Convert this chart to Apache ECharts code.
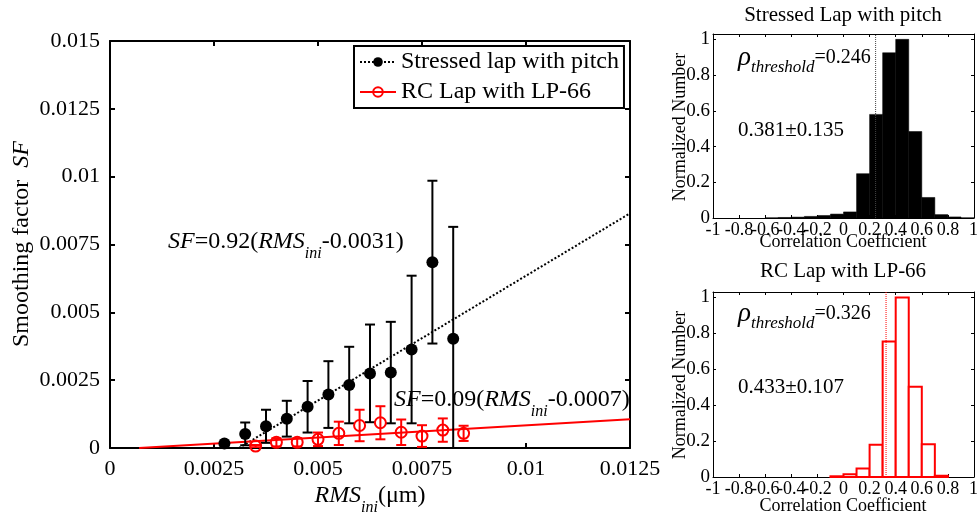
<!DOCTYPE html>
<html>
<head>
<meta charset="utf-8">
<script src="https://cdn.jsdelivr.net/npm/echarts@6/dist/echarts.min.js"></script>
<style>
  html, body { margin: 0; padding: 0; background: #fff; }
  #chart { width: 979px; height: 518px; }
</style>
</head>
<body>
<div id="chart"></div>
<script>
const FONT = 'Liberation Serif';

// stressed lap with pitch (black dots, mean +- std)
const stressedRms = [0.00275, 0.00325, 0.00375, 0.00425, 0.00475, 0.00525, 0.00575, 0.00625, 0.00675, 0.00725, 0.00775, 0.00825];
const stressedSf  = [0.00017, 0.00052, 0.0008, 0.00108, 0.00152, 0.00197, 0.00232, 0.00275, 0.00278, 0.00363, 0.00685, 0.00403];
const stressedErr = [0.00003, 0.00042, 0.00061, 0.00066, 0.00095, 0.00123, 0.00141, 0.0018, 0.00187, 0.00272, 0.003, 0.00412];

// RC lap with LP-66 (red circles)
const rcRms = [0.0035, 0.004, 0.0045, 0.005, 0.0055, 0.006, 0.0065, 0.007, 0.0075, 0.008, 0.0085];
const rcSf  = [0.00007, 0.00021, 0.00021, 0.00032, 0.00054, 0.00083, 0.00093, 0.00058, 0.00044, 0.00066, 0.00054];
const rcErr = [0.00004, 0.00015, 0.00015, 0.00025, 0.00043, 0.00058, 0.00061, 0.00047, 0.0004, 0.00043, 0.00028];

// linear fits SF = k * (RMS - c)
const fitSlope  = [0.92, 0.09];
const fitOffset = [0.0031, 0.0007];

const rmsTickLabels = ['0', '0.0025', '0.005', '0.0075', '0.01', '0.0125'];
const sfTickLabels  = ['0', '0.0025', '0.005', '0.0075', '0.01', '0.0125', '0.015'];

// correlation coefficient histograms (bins of 0.1)
const binLo = [-1, -0.9, -0.8, -0.7, -0.6, -0.5, -0.4, -0.3, -0.2, -0.1, 0, 0.1, 0.2, 0.3, 0.4, 0.5, 0.6, 0.7, 0.8, 0.9];
const binHi = [-0.9, -0.8, -0.7, -0.6, -0.5, -0.4, -0.3, -0.2, -0.1, 0, 0.1, 0.2, 0.3, 0.4, 0.5, 0.6, 0.7, 0.8, 0.9, 1];
const stressedHist = [0, 0, 0, 0, 0.001, 0.003, 0.005, 0.009, 0.014, 0.022, 0.034, 0.248, 0.58, 0.925, 1, 0.484, 0.115, 0.019, 0.006, 0.001];
const rcHist       = [0, 0, 0, 0, 0, 0, 0, 0, 0, 0.004, 0.015, 0.047, 0.18, 0.755, 1, 0.503, 0.182, 0.007, 0, 0];
const thresholds = [0.246, 0.326];
const histStats = ['0.381±0.135', '0.433±0.107'];
const histTitles = ['Stressed Lap with pitch', 'RC Lap with LP-66'];
const corrTickLabels = ['-1', '-0.8', '-0.6', '-0.4', '-0.2', '0', '0.2', '0.4', '0.6', '0.8', '1'];
const normTickLabels = ['0', '0.2', '0.4', '0.6', '0.8', '1'];

const RMS_MAX = 0.0125;
const HIST_MAX = 1.03;
const CORR_MAX = 1;

// histogram panels
const HIST_LEFT = 713, HIST_W = 261;
const histTop = [34, 292], histH = [184, 185];

const chart = echarts.init(document.getElementById('chart'));

function valAxis(gridIndex, position, min, max, interval, lw, labels, fontSize, margin) {
  return {
    type: 'value', gridIndex, position, min, max, interval,
    axisLine: { show: true, onZero: false, lineStyle: { color: '#000', width: lw } },
    axisTick: { show: true, inside: true, length: lw > 1 ? 5 : 3, lineStyle: { color: '#000', width: lw } },
    splitLine: { show: false },
    axisLabel: labels ? {
      show: true, margin, fontFamily: FONT, fontSize, color: '#000', hideOverlap: false,
      formatter: v => {
        const k = Math.round((v - min) / interval);
        if (Math.abs((v - min) / interval - k) > 1e-6) return '';
        return labels[k] ?? '';
      }
    } : { show: false }
  };
}

function errorBars(color) {
  return function (params, api) {
    const x = api.value(0), y = api.value(1), e = api.value(2);
    const top = api.coord([x, y + e]);
    const bot = api.coord([x, y - e]);
    const w = 5;
    const st = { stroke: color, lineWidth: 2 };
    return {
      type: 'group',
      children: [
        { type: 'line', shape: { x1: top[0], y1: top[1], x2: bot[0], y2: bot[1] }, style: st },
        { type: 'line', shape: { x1: top[0] - w, y1: top[1], x2: top[0] + w, y2: top[1] }, style: st },
        { type: 'line', shape: { x1: bot[0] - w, y1: bot[1], x2: bot[0] + w, y2: bot[1] }, style: st }
      ]
    };
  };
}

function histBars(fill, stroke, lw) {
  return function (params, api) {
    const h = api.value(2);
    if (!h) return null;
    const a = api.coord([api.value(0), h]);
    const b = api.coord([api.value(1), 0]);
    return {
      type: 'rect',
      shape: { x: a[0], y: a[1], width: b[0] - a[0], height: b[1] - a[1] },
      style: { fill, stroke, lineWidth: lw }
    };
  };
}

const fitLine = i => [[fitOffset[i], 0], [RMS_MAX, fitSlope[i] * (RMS_MAX - fitOffset[i])]];

const richMain = {
  it: { fontFamily: FONT, fontStyle: 'italic', fontSize: 24, fill: '#000' },
  n: { fontFamily: FONT, fontSize: 24, fill: '#000' },
  sub: { fontFamily: FONT, fontStyle: 'italic', fontSize: 16, fill: '#000', padding: [24, 0, 0, 0] }
};
const richHist = {
  rho: { fontFamily: FONT, fontStyle: 'italic', fontSize: 27, fill: '#000' },
  sub: { fontFamily: FONT, fontStyle: 'italic', fontSize: 17, fill: '#000', padding: [20, 0, 0, 0] },
  n: { fontFamily: FONT, fontSize: 20, fill: '#000' }
};

function txt(x, y, text, rich, align, rotation) {
  return {
    type: 'text', x, y, rotation: rotation || 0, z: 50,
    style: { text, rich, align: align || 'left', verticalAlign: 'middle', fontFamily: FONT }
  };
}
function plain(x, y, text, size, align, rotation, vAlign) {
  return {
    type: 'text', x, y, rotation: rotation || 0, z: 50,
    style: { text, fontFamily: FONT, fontSize: size, fill: '#000', align: align || 'center', verticalAlign: vAlign || 'middle' }
  };
}

// the axis drops its own last label at the panel edge, so "1" is set as a text element
const axisCorrLabels = corrTickLabels.slice(0, -1);
const lastCorr = corrTickLabels[corrTickLabels.length - 1];

const option = {
  animation: false,
  backgroundColor: '#fff',
  grid: [
    { left: 110, top: 41, width: 520, height: 407, containLabel: false, outerBoundsMode: 'none' },
    { left: HIST_LEFT, top: histTop[0], width: HIST_W, height: histH[0], containLabel: false, outerBoundsMode: 'none' },
    { left: HIST_LEFT, top: histTop[1], width: HIST_W, height: histH[1], containLabel: false, outerBoundsMode: 'none' }
  ],
  xAxis: [
    valAxis(0, 'bottom', 0, RMS_MAX, 0.0025, 2, rmsTickLabels, 22, 10),
    valAxis(0, 'top', 0, RMS_MAX, 0.0025, 2, null),
    valAxis(1, 'bottom', -1, CORR_MAX, 0.2, 1, axisCorrLabels, 18, 3),
    valAxis(1, 'top', -1, CORR_MAX, 0.2, 1, null),
    valAxis(2, 'bottom', -1, CORR_MAX, 0.2, 1, axisCorrLabels, 18, 3),
    valAxis(2, 'top', -1, CORR_MAX, 0.2, 1, null)
  ],
  yAxis: [
    valAxis(0, 'left', 0, 0.015, 0.0025, 2, sfTickLabels, 22, 10),
    valAxis(0, 'right', 0, 0.015, 0.0025, 2, null),
    valAxis(1, 'left', 0, HIST_MAX, 0.2, 1, normTickLabels, 19, 3),
    valAxis(1, 'right', 0, HIST_MAX, 0.2, 1, null),
    valAxis(2, 'left', 0, HIST_MAX, 0.2, 1, normTickLabels, 19, 3),
    valAxis(2, 'right', 0, HIST_MAX, 0.2, 1, null)
  ],
  legend: {
    orient: 'vertical', left: 354, top: 46,
    padding: [3, 5, 3, 5], itemGap: 4, itemWidth: 36, itemHeight: 12,
    borderColor: '#000', borderWidth: 2, backgroundColor: '#fff',
    selectedMode: false, z: 20,
    textStyle: { fontFamily: FONT, fontSize: 24, color: '#000', lineHeight: 26 },
    data: [
      { name: 'Stressed lap with pitch',
        lineStyle: { color: '#000', width: 2, type: 'dotted', opacity: 1 },
        itemStyle: { color: '#000' } },
      { name: 'RC Lap with LP-66',
        lineStyle: { color: '#f00', width: 2, type: 'solid', opacity: 1 },
        itemStyle: { color: 'transparent', borderColor: '#f00', borderWidth: 2 } }
    ]
  },
  graphic: [
    txt(22, 244, '{n|Smoothing factor  }{it|SF}', richMain, 'center', Math.PI / 2),
    txt(370, 496, '{it|RMS}{sub|ini}{n|(μm)}', richMain, 'center'),
    txt(168, 242, '{it|SF}{n|=0.92(}{it|RMS}{sub|ini}{n|-0.0031)}', richMain),
    txt(394, 400, '{it|SF}{n|=0.09(}{it|RMS}{sub|ini}{n|-0.0007)}', richMain),

    plain(843, 15, histTitles[0], 21),
    plain(843, 271, histTitles[1], 21),
    plain(843, 242, 'Correlation Coefficient', 18),
    plain(843, 506, 'Correlation Coefficient', 18),
    plain(680, 127, 'Normalized Number', 18, 'center', Math.PI / 2),
    plain(680, 385, 'Normalized Number', 18, 'center', Math.PI / 2),
    txt(738, 58, '{rho|ρ}{sub|threshold}{n|=' + thresholds[0] + '}', richHist),
    txt(738, 314, '{rho|ρ}{sub|threshold}{n|=' + thresholds[1] + '}', richHist),
    plain(738, 130, histStats[0], 21, 'left'),
    plain(738, 387, histStats[1], 21, 'left'),
    plain(HIST_LEFT + HIST_W + 4, histTop[0] + histH[0] + 3, lastCorr, 18, 'right', 0, 'top'),
    plain(HIST_LEFT + HIST_W + 4, histTop[1] + histH[1] + 3, lastCorr, 18, 'right', 0, 'top')
  ],
  series: [
    {
      type: 'line', xAxisIndex: 0, yAxisIndex: 0, silent: true, symbol: 'none', z: 2,
      data: fitLine(0), lineStyle: { color: '#000', width: 2, type: 'dotted' }
    },
    {
      type: 'line', xAxisIndex: 0, yAxisIndex: 0, silent: true, symbol: 'none', z: 2,
      data: fitLine(1), lineStyle: { color: '#f00', width: 2, type: 'solid' }
    },
    {
      type: 'custom', xAxisIndex: 0, yAxisIndex: 0, silent: true, clip: true, z: 3,
      renderItem: errorBars('#000'), encode: { x: 0, y: 1 },
      data: stressedRms.map((x, i) => [x, stressedSf[i], stressedErr[i]])
    },
    {
      type: 'custom', xAxisIndex: 0, yAxisIndex: 0, silent: true, clip: true, z: 4,
      renderItem: errorBars('#f00'), encode: { x: 0, y: 1 },
      data: rcRms.map((x, i) => [x, rcSf[i], rcErr[i]])
    },
    {
      name: 'Stressed lap with pitch', type: 'line', xAxisIndex: 0, yAxisIndex: 0, z: 5,
      symbol: 'circle', symbolSize: 12, showAllSymbol: true,
      itemStyle: { color: '#000' }, lineStyle: { opacity: 0 },
      data: stressedRms.map((x, i) => [x, stressedSf[i]])
    },
    {
      name: 'RC Lap with LP-66', type: 'line', xAxisIndex: 0, yAxisIndex: 0, z: 6,
      symbol: 'circle', symbolSize: 11, showAllSymbol: true,
      itemStyle: { color: 'transparent', borderColor: '#f00', borderWidth: 2 }, lineStyle: { opacity: 0 },
      data: rcRms.map((x, i) => [x, rcSf[i]])
    },
    {
      type: 'custom', xAxisIndex: 2, yAxisIndex: 2, silent: true,
      renderItem: histBars('#000', '#000', 0.5), encode: { x: [0, 1], y: 2 },
      data: binLo.map((lo, i) => [lo, binHi[i], stressedHist[i]])
    },
    {
      type: 'line', xAxisIndex: 2, yAxisIndex: 2, silent: true, symbol: 'none', z: 4,
      data: [[thresholds[0], 0], [thresholds[0], HIST_MAX]],
      lineStyle: { color: '#444', width: 1, type: 'dotted' }
    },
    {
      type: 'custom', xAxisIndex: 4, yAxisIndex: 4, silent: true,
      renderItem: histBars('#fff', '#f00', 2), encode: { x: [0, 1], y: 2 },
      data: binLo.map((lo, i) => [lo, binHi[i], rcHist[i]])
    },
    {
      type: 'line', xAxisIndex: 4, yAxisIndex: 4, silent: true, symbol: 'none', z: 4,
      data: [[thresholds[1], 0], [thresholds[1], HIST_MAX]],
      lineStyle: { color: '#f00', width: 1, type: 'dotted' }
    }
  ]
};

chart.setOption(option);
</script>
</body>
</html>
